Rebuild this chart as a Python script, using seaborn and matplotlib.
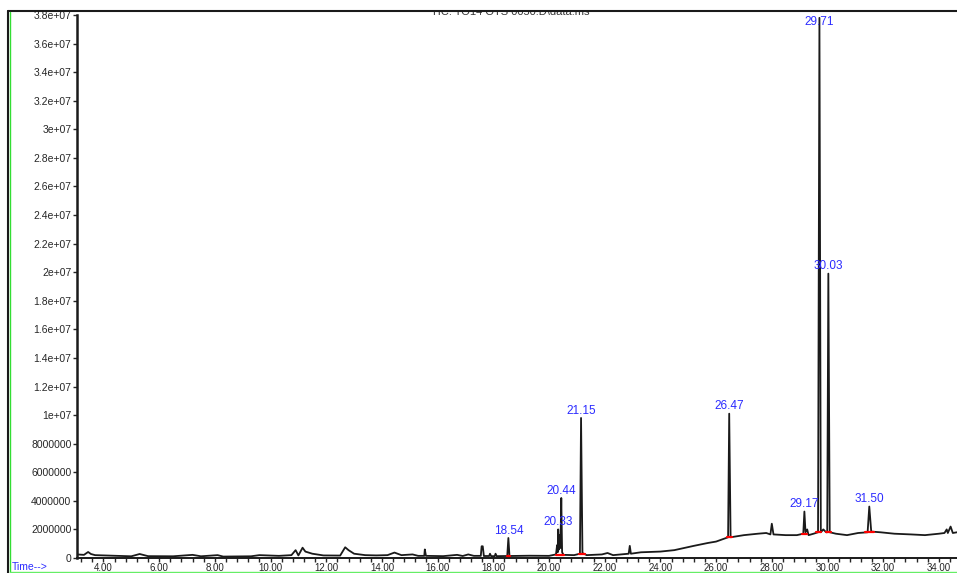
#%% importing the libraries
import numpy as np
import pandas as pd
import seaborn as sns
import matplotlib.pyplot as plt
import matplotlib.patches as pa
from matplotlib.lines import Line2D
from matplotlib.ticker import FixedLocator, MultipleLocator

#%% setting the context
sns.set(style="white")
plt.rcParams['font.family'] = ['Liberation Sans', 'DejaVu Sans']

#%% chromatogram trace (time in min, abundance in millions)
time_min = [3.05, 3.3, 3.45, 3.55, 3.7, 4.5, 5.0, 5.3, 5.6, 6.5, 7.2, 7.5,
            8.1, 8.3, 9.3, 9.6, 10.3, 10.75, 10.9, 11.0, 11.15, 11.25, 11.5, 11.9,
            12.5, 12.68, 12.8, 13.0, 13.4, 13.8, 14.2, 14.45, 14.7, 15.1, 15.3, 15.52,
            15.54, 15.58, 16.2, 16.7, 16.9, 17.1, 17.3, 17.55, 17.58, 17.62, 17.66, 17.85,
            17.88, 17.92, 18.05, 18.08, 18.12, 18.5, 18.54, 18.58, 19.3, 20.0, 20.25, 20.29,
            20.31, 20.33, 20.36, 20.39, 20.41, 20.44, 20.47, 20.52, 20.9, 21.11, 21.15, 21.2,
            21.35, 21.9, 22.1, 22.3, 22.86, 22.9, 22.94, 23.3, 24.0, 24.5, 25.2, 25.7,
            26.0, 26.43, 26.47, 26.52, 27.0, 27.5, 27.8, 27.95, 28.0, 28.06, 28.5, 28.9,
            29.13, 29.17, 29.21, 29.27, 29.32, 29.5, 29.66, 29.71, 29.76, 29.85, 29.95, 29.99,
            30.03, 30.08, 30.3, 30.7, 31.1, 31.44, 31.5, 31.57, 31.9, 32.4, 33.0, 33.5,
            34.0, 34.2, 34.28, 34.32, 34.42, 34.5, 34.65]
abund_m = [0.25, 0.22, 0.42, 0.28, 0.2, 0.15, 0.12, 0.28, 0.13, 0.12, 0.22, 0.12,
           0.2, 0.1, 0.12, 0.2, 0.15, 0.2, 0.55, 0.18, 0.72, 0.45, 0.3, 0.18,
           0.17, 0.75, 0.55, 0.3, 0.2, 0.18, 0.2, 0.38, 0.2, 0.25, 0.15, 0.15,
           0.6, 0.15, 0.13, 0.22, 0.14, 0.25, 0.15, 0.15, 0.82, 0.82, 0.14, 0.14,
           0.3, 0.13, 0.13, 0.3, 0.13, 0.14, 1.4, 0.14, 0.16, 0.15, 0.25, 0.9,
           0.4, 2.0, 0.6, 1.6, 0.7, 4.2, 0.4, 0.22, 0.2, 0.3, 9.8, 0.35,
           0.2, 0.25, 0.35, 0.2, 0.3, 0.85, 0.3, 0.4, 0.45, 0.55, 0.85, 1.05,
           1.15, 1.45, 10.1, 1.45, 1.6, 1.7, 1.75, 1.65, 2.4, 1.65, 1.6, 1.6,
           1.7, 3.25, 1.8, 2.0, 1.6, 1.7, 1.8, 37.8, 1.8, 2.0, 1.8, 1.8,
           19.9, 1.8, 1.7, 1.6, 1.75, 1.8, 3.6, 1.85, 1.8, 1.7, 1.65, 1.6,
           1.7, 1.75, 2.0, 1.75, 2.2, 1.75, 1.8]

# labelled peaks
peak_rt = [18.54, 20.33, 20.44, 21.15, 26.47, 29.17, 29.71, 30.03, 31.50]
peak_label = ['18.54', '20.33', '20.44', '21.15', '26.47', '29.17', '29.71', '30.03', '31.50']
peak_top_m = [1.4, 2.0, 4.2, 9.8, 10.1, 3.25, 37.8, 19.9, 3.6]

# red integration baselines
base_start = [18.49, 20.24, 21.07, 26.38, 29.07, 29.58, 29.94, 31.33]
base_end = [18.61, 20.53, 21.30, 26.56, 29.26, 29.78, 30.12, 31.66]
base_level_m = [0.14, 0.22, 0.3, 1.45, 1.7, 1.8, 1.8, 1.8]

# axis ticks
ytick_vals = [i * 2e6 for i in range(20)]
ytick_text = ['0', '2000000', '4000000', '6000000', '8000000', '1e+07', '1.2e+07',
              '1.4e+07', '1.6e+07', '1.8e+07', '2e+07', '2.2e+07', '2.4e+07',
              '2.6e+07', '2.8e+07', '3e+07', '3.2e+07', '3.4e+07', '3.6e+07', '3.8e+07']
xtick_vals = list(range(4, 35, 2))

df = pd.DataFrame({'time': time_min, 'abundance': np.array(abund_m) * 1e6})

#%% plotting
fig = plt.figure(figsize=(9.57, 5.73), dpi=100)
ax = fig.add_axes([77 / 957, 15 / 573, 880 / 957, 543 / 573])

sns.lineplot(data=df, x='time', y='abundance', ax=ax, color='k',
             linewidth=1.3, estimator=None, sort=False)

for s, e, lv in zip(base_start, base_end, base_level_m):
    ax.plot([s, e], [lv * 1e6, lv * 1e6], color='red', lw=1.6, zorder=3)

for rt, lab, top in zip(peak_rt, peak_label, peak_top_m):
    y = min(top * 1e6, 3.7e7)
    ax.annotate(lab, (rt, y), xytext=(0, 1), textcoords='offset points',
                ha='center', va='bottom', color='#2b2bff', fontsize=8.5)

ax.set_xlim(3.05, 34.65)
ax.set_ylim(0, 3.8e7)
ax.yaxis.set_major_locator(FixedLocator(ytick_vals))
ax.set_yticklabels(ytick_text)
ax.set_xticks(xtick_vals)
ax.set_xticklabels([f'{v:.2f}' for v in xtick_vals])
ax.xaxis.set_minor_locator(MultipleLocator(0.4))
ax.tick_params(axis='y', which='major', direction='out', length=3, width=1,
               labelsize=7.5, pad=1, left=True)
ax.tick_params(axis='x', which='major', direction='out', length=3, width=1,
               labelsize=7, pad=0.5, bottom=True)
ax.tick_params(axis='x', which='minor', direction='out', length=3, width=1, bottom=True)
ax.set_xlabel('')
ax.set_ylabel('')

sns.despine(ax=ax, top=True, right=True)
ax.spines['left'].set_linewidth(1.8)
ax.spines['bottom'].set_linewidth(1.4)
ax.spines['left'].set_color('k')
ax.spines['bottom'].set_color('k')

# header text, partly hidden by the frame
fig.text(510 / 957, 1 - 12 / 573, 'TIC: TO14 OTS 0050.D\\data.ms', ha='center',
         va='center', fontsize=8, color='#333333', zorder=1)
fig.patches.append(pa.Rectangle((0, 1 - 11 / 573), 1, 11 / 573, transform=fig.transFigure,
                                facecolor='white', edgecolor='none', zorder=5))

# outer frame
fig.add_artist(Line2D([8 / 957, 1], [1 - 11 / 573, 1 - 11 / 573], color='k', lw=1.5, zorder=6))
fig.add_artist(Line2D([8 / 957, 8 / 957], [0, 1 - 11 / 573], color='k', lw=1.5, zorder=6))
fig.add_artist(Line2D([10 / 957, 10 / 957], [0, 1 - 12 / 573], color='#33dd33', lw=1, zorder=6))
fig.add_artist(Line2D([10 / 957, 1], [1 / 573, 1 / 573], color='#66ee66', lw=1, zorder=6))

fig.text(12 / 957, 6 / 573, 'Time-->', color='#2b2bff', fontsize=7.5, ha='left', va='center')

fig.savefig('out.png', dpi=100)
